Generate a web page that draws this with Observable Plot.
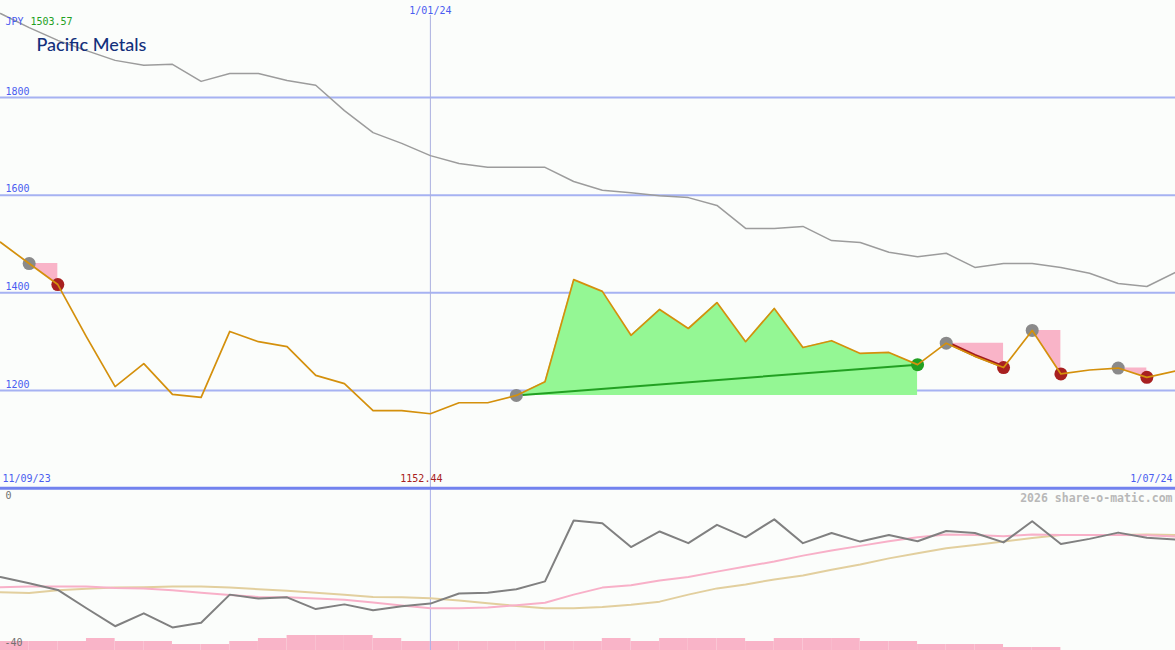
<!DOCTYPE html>
<html><head><meta charset="utf-8">
<script src="https://cdn.jsdelivr.net/npm/d3@7"></script>
<script src="https://cdn.jsdelivr.net/npm/@observablehq/plot@0.6"></script>
<style>
html,body{margin:0;padding:0;background:#fbfdfb;}
#chart{position:relative;width:1175px;height:650px;overflow:hidden;background:#fbfdfb;}
#chart > svg{position:absolute;left:0;}
</style></head><body><div id="chart"></div>
<script>
// ---------- data ----------
const title = "Pacific Metals";
const currency = "JPY";
const weeks = d3.utcMonday.range(new Date(Date.UTC(2023, 8, 18)), new Date(Date.UTC(2024, 6, 2)));
const dateLabels = ["11/09/23", "1/01/24", "1/07/24"];
const markerWeek = new Date(Date.UTC(2024, 0, 1));
const price = [1503.57, 1460, 1417, 1310, 1208, 1255, 1192, 1186, 1321, 1300, 1290, 1231, 1214, 1159, 1159,
  1152.44, 1175, 1175, 1190, 1218, 1427, 1403, 1313, 1366, 1327, 1380, 1300, 1368, 1288, 1302, 1276, 1278,
  1253, 1297, 1270, 1247, 1323, 1234, 1242, 1246, 1227, 1240];
const average = [1972, 1943, 1917, 1896, 1876, 1866, 1868, 1833, 1849, 1849, 1835, 1825, 1773, 1728, 1706,
  1681, 1665, 1657, 1657, 1657, 1628, 1610, 1605, 1599, 1595, 1579, 1532, 1532, 1536, 1507, 1503, 1483,
  1474, 1481, 1452, 1460, 1460, 1452, 1440, 1419, 1413, 1442];
const priceTicks = [1200, 1400, 1600, 1800];
const priceFloor = 1000;
const buySignal = {start: 18, end: 32};
const sellSignals = [[1, 2], [33, 35], [36, 37], [39, 40]];
const emphasisedSell = [33, 35];
const momentum = [-22.2, -23.8, -25.5, -30.2, -34.8, -31.5, -35.1, -33.9, -26.7, -27.7, -27.4, -30.4, -29.2,
  -30.7, -29.7, -29.0, -26.4, -26.2, -25.3, -23.3, -7.7, -8.4, -14.5, -10.5, -13.5, -8.8, -12.0, -7.4, -13.5,
  -10.9, -13.1, -11.4, -13.0, -10.4, -10.9, -13.3, -7.9, -13.7, -12.4, -10.8, -12.1, -12.6];
const signalLine = [-24.8, -24.6, -24.6, -24.6, -25.0, -25.1, -25.6, -26.2, -26.8, -27.3, -27.4, -27.7, -28.0,
  -28.7, -29.5, -30.2, -30.2, -30.0, -29.4, -28.8, -26.7, -24.9, -24.3, -23.1, -22.2, -20.8, -19.5, -18.2,
  -16.7, -15.4, -14.2, -13.0, -12.0, -11.3, -11.4, -11.7, -11.3, -11.4, -11.4, -11.4, -11.5, -11.8];
const slowLine = [-26.1, -26.3, -25.6, -25.2, -24.9, -24.8, -24.6, -24.6, -24.9, -25.3, -25.7, -26.2, -26.7,
  -27.3, -27.4, -27.6, -28.2, -28.9, -29.6, -30.2, -30.2, -29.9, -29.3, -28.5, -26.7, -25.1, -24.1, -22.8,
  -21.8, -20.3, -19.0, -17.4, -16.1, -14.8, -14.0, -13.1, -12.2, -11.4, -11.4, -11.4, -11.3, -11.4];
const volumeLevels = [3, 3, 3, 4, 3, 3, 2, 2, 3, 4, 5, 5, 5, 4, 3, 3, 3, 3, 3, 3, 3, 4, 3, 4, 4, 4, 3, 4, 4, 4,
  3, 3, 2, 2, 2, 1, 1, 0, 0, 0, 0];
const indicatorTicks = [0, -40];
const credit = "2026 share-o-matic.com";

// ---------- helpers ----------
const W = 1175;
const mono = "DejaVu Sans Mono";
const rows = weeks.map((d, i) => ({date: d, price: price[i], avg: average[i],
  mom: momentum[i], sig: signalLine[i], slow: slowLine[i]}));
const xScale = {type: "utc", domain: [weeks[0], weeks[weeks.length - 1]], range: [0, W], axis: null};
const minI = d3.minIndex(price);
const blue = "#4a5cf0";
const pink = "#f9b4c8";

const sellAreas = sellSignals.map(([s, e]) =>
  Plot.areaY(rows.slice(s, e + 1), {x: "date", y1: price[s], y2: "price", fill: pink, curve: "linear"}));
const sellStarts = sellSignals.map(([s]) => rows[s]);
const sellEnds = sellSignals.map(([, e]) => rows[e]);

const pricePlot = Plot.plot({
  width: W, height: 488, margin: 0,
  style: {background: "transparent", overflow: "visible"},
  x: xScale,
  y: {domain: [priceFloor, 1998.6], range: [487.7, 0], axis: null},
  marks: [
    Plot.ruleY(priceTicks, {stroke: "#a6b2f2", strokeWidth: 2}),
    Plot.ruleX([markerWeek], {stroke: "#aab0e0", strokeWidth: 1, insetTop: 15}),
    Plot.line(rows, {x: "date", y: "avg", stroke: "#9c9c9c", strokeWidth: 1.5}),
    Plot.areaY(rows.slice(buySignal.start, buySignal.end + 1),
      {x: "date", y1: price[buySignal.start], y2: "price", fill: "#94f794"}),
    ...sellAreas,
    Plot.line([rows[buySignal.start], rows[buySignal.end]], {x: "date", y: "price", stroke: "#22a022", strokeWidth: 2}),
    Plot.line(rows.slice(emphasisedSell[0], emphasisedSell[1] + 1),
      {x: "date", y: "price", stroke: "#a31b1b", strokeWidth: 3, dy: -1}),
    Plot.dot(sellStarts.concat([rows[buySignal.start]]), {x: "date", y: "price", r: 6.5, fill: "#8a8a8a"}),
    Plot.dot(sellEnds, {x: "date", y: "price", r: 6.5, fill: "#a82020"}),
    Plot.dot([rows[buySignal.end]], {x: "date", y: "price", r: 6.5, fill: "#22a022"}),
    Plot.line(rows, {x: "date", y: "price", stroke: "#d4900c", strokeWidth: 1.7}),
    Plot.ruleY([priceFloor], {stroke: "#7282ee", strokeWidth: 3}),
    Plot.text(priceTicks, {x: weeks[0], y: d => d, text: d => String(d), textAnchor: "start",
      dx: 5, dy: -6, fill: blue, fontSize: 10, fontFamily: mono}),
    Plot.text([currency], {frameAnchor: "top-left", text: d => d, textAnchor: "start", dx: 5, dy: 17,
      fill: blue, fontSize: 10, fontFamily: mono}),
    Plot.text([price[0]], {frameAnchor: "top-left", text: d => d.toFixed(2), textAnchor: "start", dx: 30, dy: 17,
      fill: "#22a022", fontSize: 10, fontFamily: mono}),
    Plot.text([title], {frameAnchor: "top-left", text: d => d, textAnchor: "start", dx: 36, dy: 38,
      fill: "#13307c", fontSize: 18, fontFamily: "Lato", fontWeight: 500}),
    Plot.text([dateLabels[1]], {x: markerWeek, frameAnchor: "top", text: d => d, dy: 6,
      fill: blue, fontSize: 10, fontFamily: mono}),
    Plot.text([dateLabels[0]], {frameAnchor: "bottom-left", text: d => d, textAnchor: "start", dx: 2, dy: -7,
      fill: blue, fontSize: 10, fontFamily: mono}),
    Plot.text([dateLabels[2]], {frameAnchor: "bottom-right", text: d => d, textAnchor: "end", dx: -3, dy: -7,
      fill: blue, fontSize: 10, fontFamily: mono}),
    Plot.text([rows[minI]], {x: "date", frameAnchor: "bottom", text: d => d.price.toFixed(2), dx: -9, dy: -7,
      fill: "#a82020", fontSize: 10, fontFamily: mono})
  ]
});
pricePlot.style.top = "0px";

const bars = volumeLevels.map((v, i) => ({start: weeks[i], end: weeks[i + 1], level: v})).filter(d => d.level > 0);
const volPlot = Plot.plot({
  width: W, height: 162, margin: 0,
  style: {background: "transparent"},
  x: xScale,
  y: {domain: [0, 54], range: [162, 0], axis: null},
  marks: [Plot.rectY(bars, {x1: "start", x2: "end", y: "level", fill: pink, inset: 0})]
});
volPlot.style.top = "488px";

const indPlot = Plot.plot({
  width: W, height: 162, margin: 0,
  style: {background: "transparent", overflow: "visible"},
  x: xScale,
  y: {domain: [-40, 0], range: [158, 2], axis: null},
  marks: [
    Plot.ruleX([markerWeek], {stroke: "#aab0e8", strokeWidth: 1}),
    Plot.line(rows, {x: "date", y: "slow", stroke: "#e2cf9e", strokeWidth: 2}),
    Plot.line(rows, {x: "date", y: "sig", stroke: "#f8b0c8", strokeWidth: 2}),
    Plot.line(rows, {x: "date", y: "mom", stroke: "#808080", strokeWidth: 2}),
    Plot.text([indicatorTicks[0]], {x: weeks[0], y: d => d, text: d => String(d), textAnchor: "start",
      dx: 5, dy: 5, fill: "#707070", fontSize: 10, fontFamily: mono}),
    Plot.text([indicatorTicks[1]], {x: weeks[0], y: d => d, text: d => String(d), textAnchor: "start",
      dx: 4, dy: -4, fill: "#707070", fontSize: 10, fontFamily: mono}),
    Plot.text([credit], {frameAnchor: "top-right", text: d => d, textAnchor: "end", dx: -3, dy: 5,
      fill: "#b8b8b8", fontSize: 11.5, fontWeight: "bold", fontFamily: mono})
  ]
});
indPlot.style.top = "488px";

const chart = document.getElementById("chart");
chart.appendChild(volPlot);
chart.appendChild(indPlot);
chart.appendChild(pricePlot);
</script>
</body></html>
